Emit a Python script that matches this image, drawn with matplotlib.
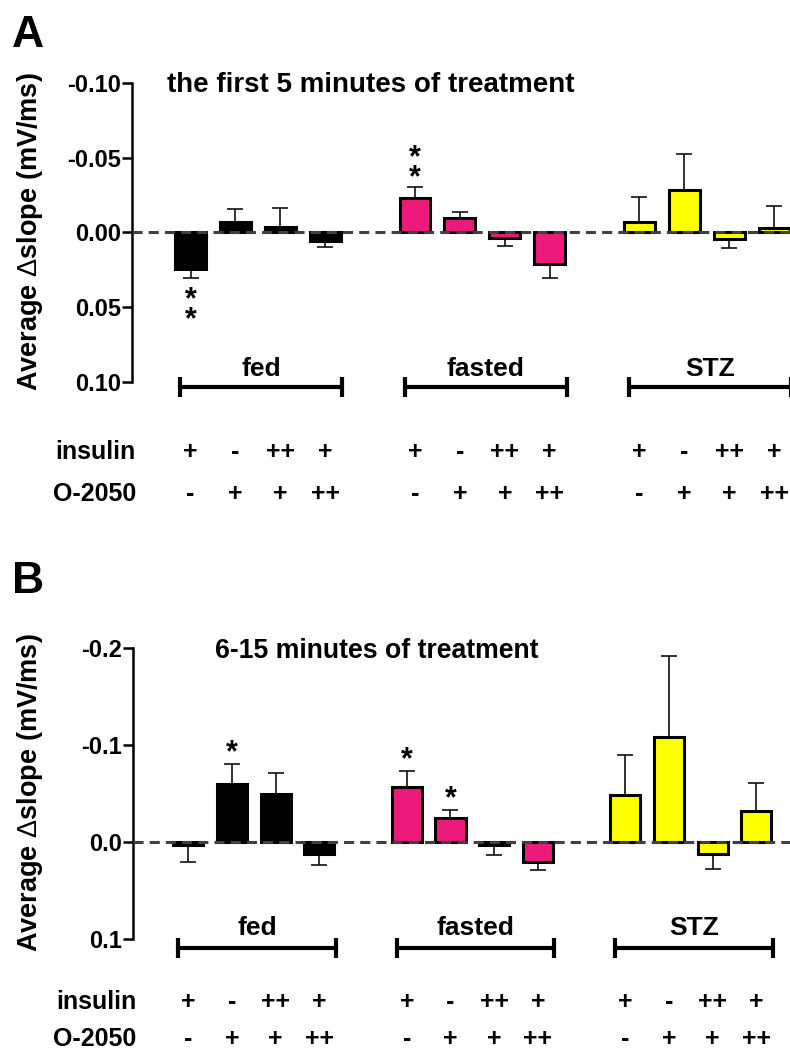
import numpy as np
import matplotlib
matplotlib.use("Agg")
import matplotlib.pyplot as plt
from matplotlib.ticker import FormatStrFormatter

plt.rcParams["font.family"] = ["Liberation Sans", "DejaVu Sans"]
plt.rcParams["axes.unicode_minus"] = False
plt.rcParams["mathtext.fontset"] = "custom"
plt.rcParams["mathtext.rm"] = "Liberation Sans"

# ---- data (inverted y axis: negative values point up) ----
groups = ["fed", "fasted", "STZ"]
colors = ["#000000", "#EC1B7B", "#FFFF00"]
insulin = ["+", "-", "++", "+"]
o2050 = ["-", "+", "+", "++"]

a_fed = [0.0243, -0.0069, -0.0035, 0.0054]
a_fed_err = [0.0063, 0.0090, 0.0130, 0.0045]
a_fasted = [-0.0232, -0.0094, 0.0038, 0.0214]
a_fasted_err = [0.0071, 0.0040, 0.0054, 0.0092]
a_stz = [-0.0072, -0.0281, 0.0042, -0.0030]
a_stz_err = [0.0164, 0.0246, 0.0065, 0.0150]
a_stars = [(0, 0, 2), (1, 0, 2)]          # (group, bar, number of stars)

b_fed = [0.0030, -0.0597, -0.0493, 0.0127]
b_fed_err = [0.0176, 0.0210, 0.0220, 0.0114]
b_fasted = [-0.0563, -0.0242, 0.0030, 0.0207]
b_fasted_err = [0.0170, 0.0090, 0.0110, 0.0090]
b_stz = [-0.0483, -0.1080, 0.0127, -0.0320]
b_stz_err = [0.0410, 0.0840, 0.0160, 0.0290]
b_stars = [(0, 1, 1), (1, 0, 1), (1, 1, 1)]

YLAB = r"Average $\Delta$slope (mV/ms)"

fig = plt.figure(figsize=(7.9, 10.57), dpi=100)


def panel(rect, vals, errs, stars, ylim, yticks, fmt, xlim,
          y_bracket, y_glabel, y_ins, y_o2):
    ax = fig.add_axes(rect)
    for g, (v, e) in enumerate(zip(vals, errs)):
        x = np.arange(4) + 5 * g
        v = np.array(v); e = np.array(e)
        lo = np.where(v < 0, e, 0.0)
        hi = np.where(v < 0, 0.0, e)
        ax.errorbar(x, v, yerr=[lo, hi], fmt="none", ecolor="#111111",
                    elinewidth=1.2, capsize=5.5, capthick=1.2, zorder=2)
        ax.bar(x, v, width=0.69, color=colors[g], edgecolor="black",
               linewidth=2.2, zorder=3)
        # group bracket + label
        x0, x1 = x[0] - 0.23, x[-1] + 0.38
        ax.plot([x0, x1], [y_bracket, y_bracket], color="black", lw=3,
                marker="|", ms=15, mew=3, clip_on=False, solid_capstyle="butt")
        ax.text((x0 + x1) / 2, y_glabel, groups[g], ha="center",
                va="baseline", fontsize=19, fontweight="bold")
        for xi, s1, s2 in zip(x, insulin, o2050):
            ax.text(xi, y_ins, s1, ha="center", va="center", fontsize=18,
                    fontweight="bold", clip_on=False)
            ax.text(xi, y_o2, s2, ha="center", va="center", fontsize=18,
                    fontweight="bold", clip_on=False)
    # significance stars, stacked in one text
    for g, b, n in stars:
        v = vals[g][b]; e = errs[g][b]
        end = v - e if v < 0 else v + e
        sgn = 1 if v < 0 else -1
        mid = 12.2 + 6.1 * (n - 1)
        ax.annotate("\n".join(["*"] * n), xy=(b + 5 * g, end),
                    xytext=(0, sgn * mid - 4.6), textcoords="offset points",
                    ha="center", va="center", fontsize=22, fontweight="bold",
                    linespacing=0.54, annotation_clip=False)
    ax.axhline(0, color="#404040", lw=2.2, dashes=(3.3, 2.0), zorder=4)
    ax.set_xlim(*xlim)
    ax.set_ylim(*ylim)
    ax.set_yticks(yticks)
    ax.yaxis.set_major_formatter(FormatStrFormatter(fmt))
    ax.tick_params(axis="y", length=7, width=1.8, pad=1, labelsize=17)
    for lbl in ax.get_yticklabels():
        lbl.set_fontweight("bold")
    ax.tick_params(axis="x", bottom=False, labelbottom=False)
    for s in ["top", "right", "bottom"]:
        ax.spines[s].set_visible(False)
    ax.spines["left"].set_linewidth(1.8)
    tr = ax.get_yaxis_transform()
    ax.text(0.006, y_ins, "insulin", transform=tr, ha="right", va="center",
            fontsize=18, fontweight="bold")
    ax.text(0.006, y_o2, "O-2050", transform=tr, ha="right", va="center",
            fontsize=18, fontweight="bold")
    return ax


ax_a = panel([0.1671, 0.6386, 0.8329, 0.2829],
             [a_fed, a_fasted, a_stz], [a_fed_err, a_fasted_err, a_stz_err], a_stars,
             (0.10, -0.10), [-0.10, -0.05, 0.0, 0.05, 0.10], "%.2f", (-1.303, 13.352),
             0.1031, 0.096, 0.1468, 0.1749)
ax_b = panel([0.168, 0.1121, 0.832, 0.2748],
             [b_fed, b_fasted, b_stz], [b_fed_err, b_fasted_err, b_stz_err], b_stars,
             (0.1, -0.2), [-0.2, -0.1, 0.0, 0.1], "%.1f", (-1.272, 13.77),
             0.1098, 0.0964, 0.1655, 0.2038)

fig.text(12 / 790, 1 - 47 / 1057, "A", fontsize=32, fontweight="bold", va="baseline")
fig.text(12 / 790, 1 - 593 / 1057, "B", fontsize=32, fontweight="bold", va="baseline")
fig.text(167 / 790, 1 - 92 / 1057, "the first 5 minutes of treatment",
         fontsize=20, fontweight="bold", va="baseline")
fig.text(215 / 790, 1 - 658 / 1057, "6-15 minutes of treatment",
         fontsize=19.2, fontweight="bold", va="baseline")
fig.text(30 / 790, 1 - 232 / 1057, YLAB, rotation=90, ha="center", va="center",
         fontsize=19.5, fontweight="bold")
fig.text(30 / 790, 1 - 793 / 1057, YLAB, rotation=90, ha="center", va="center",
         fontsize=19.5, fontweight="bold")

fig.savefig("out.png", dpi=100)
